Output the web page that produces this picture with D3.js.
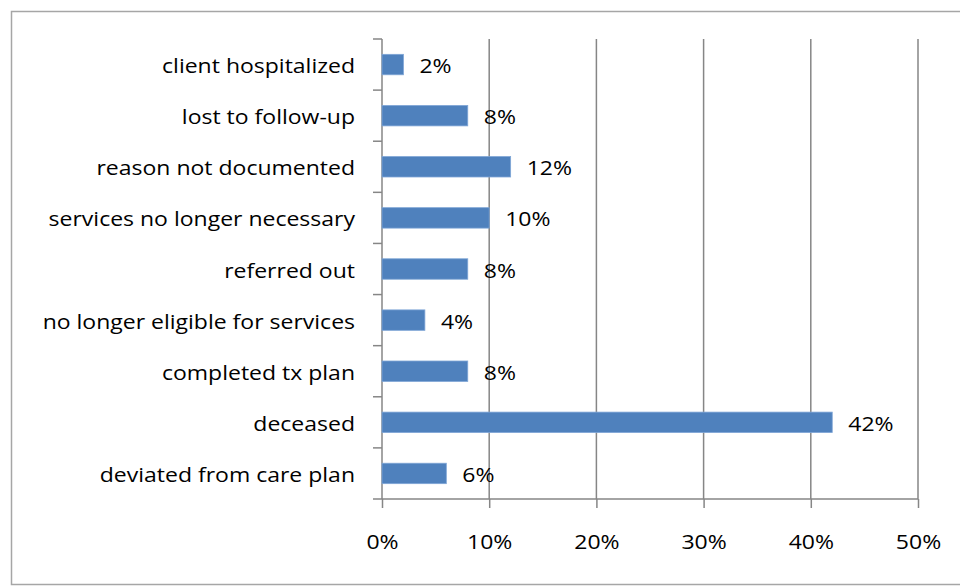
<!DOCTYPE html>
<html>
<head>
<meta charset="utf-8">
<script src="https://cdn.jsdelivr.net/npm/d3@7"></script>
<style>
  html, body { margin: 0; padding: 0; background: #fff; }
  svg { display: block; font-family: "Open Sans", "Noto Sans", sans-serif; }
</style>
</head>
<body>
<svg id="chart" width="960" height="586"></svg>
<script>
// Reasons for case closure, share of clients
const categories = [
  "client hospitalized",
  "lost to follow-up",
  "reason not documented",
  "services no longer necessary",
  "referred out",
  "no longer eligible for services",
  "completed tx plan",
  "deceased",
  "deviated from care plan"
];
const values = [2, 8, 12, 10, 8, 4, 8, 42, 6];
const xTicks = [0, 10, 20, 30, 40, 50];

const svg = d3.select("#chart");
const W = 960;
const FONT = 20;
const WIDEN = 1.15;   // text is drawn slightly widened horizontally

// chart frame
svg.append("rect")
  .attr("x", 11.5).attr("y", 11.5)
  .attr("width", W + 10).attr("height", 573)
  .attr("fill", "none").attr("stroke", "#a6a6a6").attr("stroke-width", 1.5);

const plot = { left: 382, right: 918, top: 39, bottom: 499 };

const x = d3.scaleLinear().domain([0, 50]).range([plot.left, plot.right]);
const y = d3.scaleBand().domain(categories).range([plot.top, plot.bottom]).paddingInner(0.6).paddingOuter(0.3);
const yEdges = d3.scaleLinear().domain([0, categories.length]).range([plot.top, plot.bottom]);

const gridColor = "#868686";

// vertical gridlines
svg.append("g")
  .selectAll("line")
  .data(xTicks.filter(t => t > 0))
  .join("line")
  .attr("x1", d => x(d)).attr("x2", d => x(d))
  .attr("y1", plot.top).attr("y2", plot.bottom)
  .attr("stroke", gridColor).attr("stroke-width", 1.5);

// bottom axis
const xAxis = d3.axisBottom(x).tickValues(xTicks).tickFormat(d => d + "%").tickSize(9);
const gx = svg.append("g").attr("transform", `translate(0,${plot.bottom})`).call(xAxis);
gx.select(".domain").attr("stroke", gridColor).attr("stroke-width", 1.5)
  .attr("d", `M${plot.left},0H${plot.right}`);
gx.selectAll(".tick line").attr("stroke", gridColor).attr("stroke-width", 1.5);
gx.selectAll(".tick text")
  .attr("y", 0).attr("dy", null)
  .attr("transform", `translate(0,50) scale(${WIDEN},1)`)
  .attr("font-size", FONT).attr("fill", "#000")
  .attr("font-family", "\"Open Sans\", sans-serif");

// left axis with ticks at category boundaries
const gy = svg.append("g");
gy.append("line")
  .attr("x1", plot.left).attr("x2", plot.left)
  .attr("y1", plot.top).attr("y2", plot.bottom)
  .attr("stroke", gridColor).attr("stroke-width", 1.5);
gy.selectAll("line.tk")
  .data(d3.range(categories.length + 1))
  .join("line").attr("class", "tk")
  .attr("x1", plot.left - 9).attr("x2", plot.left)
  .attr("y1", d => yEdges(d)).attr("y2", d => yEdges(d))
  .attr("stroke", gridColor).attr("stroke-width", 1.5);

// category labels
svg.append("g")
  .selectAll("text")
  .data(categories)
  .join("text")
  .attr("transform", d => `translate(${plot.left - 27},${y(d) + y.bandwidth() / 2 + 8.5}) scale(${WIDEN},1)`)
  .attr("text-anchor", "end")
  .attr("font-size", FONT)
  .attr("fill", "#000")
  .text(d => d);

// bars
const data = categories.map((c, i) => ({ c, v: values[i] }));
svg.append("g")
  .selectAll("rect")
  .data(data)
  .join("rect")
  .attr("x", x(0))
  .attr("y", d => y(d.c))
  .attr("width", d => x(d.v) - x(0))
  .attr("height", y.bandwidth())
  .attr("fill", "#4f81bd")
  .attr("stroke", "#7fa6d6").attr("stroke-width", 0.8);

// value labels
svg.append("g")
  .selectAll("text")
  .data(data)
  .join("text")
  .attr("transform", d => `translate(${x(d.v) + 16},${y(d.c) + y.bandwidth() / 2 + 8.5}) scale(${WIDEN},1)`)
  .attr("font-size", FONT)
  .attr("fill", "#000")
  .text(d => d.v + "%");
</script>
</body>
</html>
